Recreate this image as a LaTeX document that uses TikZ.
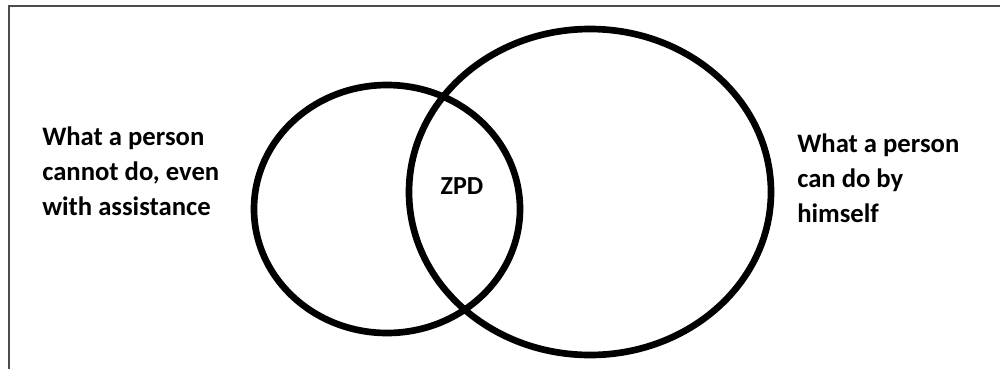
\documentclass[tikz,border=0pt]{standalone}
\usepackage{fontspec}
\setmainfont{Carlito}
\begin{document}
\begin{tikzpicture}[x=0.75pt,y=-0.75pt,
  frameline/.style={draw=black!70,line width=1.1pt},
  ring/.style={draw=black,line width=5pt},
  caption/.style={inner sep=0pt,align=left,anchor=north west,
    font=\bfseries\fontsize{20}{26.2}\selectfont}]
  \useasboundingbox[fill=white] (0,0) rectangle (1000,369);
  % frame edges along the top and the left side
  \draw[frameline] (1000,6) -- (9,6) -- (9,369);
  % the two overlapping regions
  \draw[ring] (387,209) ellipse [x radius=133, y radius=124];
  \draw[ring] (590,192) ellipse [x radius=181, y radius=163];
  % labels
  \node[caption] (cannot) at (42,127) {What a person\\cannot do, even\\with assistance};
  \node[caption] (can) at (797,134) {What a person\\can do by\\himself};
  \node[inner sep=0pt,font=\bfseries\fontsize{19.5}{23}\selectfont] (zpd) at (462,186) {ZPD};
\end{tikzpicture}
\end{document}
